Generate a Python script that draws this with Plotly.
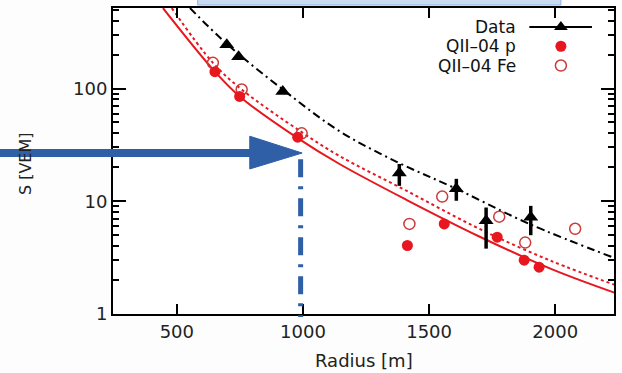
import plotly.graph_objects as go

# ---- data ----
data_r = [698, 745, 920, 1382, 1608, 1726, 1903]
data_s = [244, 191, 94, 17.8, 12.9, 6.7, 7.2]
data_err_up = [0, 0, 0, 3.6, 2.9, 2.1, 1.9]
data_err_dn = [0, 0, 0, 4.1, 2.8, 2.9, 2.2]

p_r = [651, 749, 979, 1414, 1560, 1770, 1877, 1936]
p_s = [141, 85, 37, 4.05, 6.3, 4.8, 3.0, 2.6]

fe_r = [643, 757, 995, 1422, 1552, 1778, 1881, 2079]
fe_s = [169, 98, 40, 6.3, 11.0, 7.3, 4.3, 5.7]

# fitted curves
fit_data_r = [552, 698, 920, 1145, 1382, 1608, 1897, 2241]
fit_data_s = [517, 249, 98, 41.8, 21.8, 12.9, 6.3, 3.1]

fit_p_r = [445, 651, 749, 979, 1145, 1410, 1699, 1988, 2241]
fit_p_s = [517, 141, 85, 36.3, 21.4, 10.3, 4.87, 2.49, 1.53]

fit_fe_r = [480, 643, 757, 995, 1145, 1410, 1699, 1988, 2241]
fit_fe_s = [517, 169, 98, 41, 25.2, 12.4, 5.7, 2.93, 1.80]

x_ticks = [500, 1000, 1500, 2000]
y_ticks = [1, 10, 100]
y_minor = [2, 3, 4, 5, 6, 7, 8, 9, 20, 30, 40, 50, 60, 70, 80, 90, 200, 300, 400, 500]

legend_labels = ["Data", "QII–04 p", "QII–04 Fe"]

RED = "#e8161e"
RED_OPEN = "#cc3a3a"
BLUE = "#2f5fa6"
FONT = "DejaVu Sans"

fig = go.Figure()

fig.add_trace(go.Scatter(x=fit_p_r, y=fit_p_s, mode="lines", line=dict(color=RED, width=2, shape="spline"),
                         showlegend=False))
fig.add_trace(go.Scatter(x=fit_fe_r, y=fit_fe_s, mode="lines", line=dict(color=RED, width=2, dash="dot", shape="spline"),
                         showlegend=False))
fig.add_trace(go.Scatter(x=fit_data_r, y=fit_data_s, mode="lines",
                         line=dict(color="black", width=2, dash="8px,4px,2px,4px", shape="spline"),
                         showlegend=False))

fig.add_trace(go.Scatter(x=fe_r, y=fe_s, mode="markers",
                         marker=dict(symbol="circle-open", size=11, color=RED_OPEN, line=dict(width=1.5)),
                         showlegend=False))
fig.add_trace(go.Scatter(x=p_r, y=p_s, mode="markers",
                         marker=dict(symbol="circle", size=11, color=RED),
                         showlegend=False))
fig.add_trace(go.Scatter(x=data_r, y=data_s, mode="markers",
                         marker=dict(symbol="triangle-up", size=13, color="black"),
                         error_y=dict(type="data", symmetric=False, array=data_err_up, arrayminus=data_err_dn,
                                      thickness=3.5, width=0, color="black"),
                         showlegend=False))

# ---- custom legend (symbols on the right of the text) on an overlay axis ----
leg_y = [0.938, 0.875, 0.812]
leg_sym_x = 0.894
fig.add_trace(go.Scatter(x=[0.831, 0.956], y=[leg_y[0], leg_y[0]], mode="lines",
                         line=dict(color="black", width=2), xaxis="x2", yaxis="y2", showlegend=False))
fig.add_trace(go.Scatter(x=[leg_sym_x], y=[leg_y[0]], mode="markers",
                         marker=dict(symbol="triangle-up", size=12, color="black"),
                         xaxis="x2", yaxis="y2", showlegend=False))
fig.add_trace(go.Scatter(x=[leg_sym_x], y=[leg_y[1]], mode="markers",
                         marker=dict(symbol="circle", size=11, color=RED),
                         xaxis="x2", yaxis="y2", showlegend=False))
fig.add_trace(go.Scatter(x=[leg_sym_x], y=[leg_y[2]], mode="markers",
                         marker=dict(symbol="circle-open", size=11, color=RED_OPEN, line=dict(width=1.5)),
                         xaxis="x2", yaxis="y2", showlegend=False))

annotations = []
for lab, yy in zip(legend_labels, leg_y):
    annotations.append(dict(x=0.807, y=yy, xref="paper", yref="paper", text=lab, showarrow=False,
                            xanchor="right", yanchor="middle", borderpad=0,
                            font=dict(family=FONT, size=17, color="#111")))

annotations.append(dict(x=0.5, y=0, xref="paper", yref="paper", yshift=-46, text="Radius [m]",
                        showarrow=False, xanchor="center", yanchor="middle",
                        font=dict(family=FONT, size=18, color="#222")))
annotations.append(dict(x=0, y=0.49, xref="paper", yref="paper", xshift=-88, text="S [VEM]", textangle=-90,
                        showarrow=False, xanchor="center", yanchor="middle",
                        font=dict(family=FONT, size=16, color="#222")))

# ---- blue overlay marks ----
shapes = [
    dict(type="rect", xref="paper", yref="paper", x0=0.169, x1=0.894, y0=1.0097, y1=1.03,
         fillcolor="#c9dbf2", line=dict(color="#8fb3df", width=1)),
    dict(type="line", xref="paper", yref="paper", x0=-0.23, x1=0.285, y0=0.526, y1=0.526,
         line=dict(color=BLUE, width=8)),
    dict(type="path", xref="paper", yref="paper",
         path="M 0.273 0.581 L 0.273 0.474 L 0.3775 0.526 Z", fillcolor=BLUE, line=dict(color=BLUE, width=1)),
    dict(type="line", xref="paper", yref="paper", x0=0.3745, x1=0.3745, y0=0.506, y1=-0.01,
         line=dict(color=BLUE, width=5, dash="18px,9px,3px,9px")),
]

fig.update_layout(
    width=622, height=373,
    margin=dict(l=113, r=7, t=6, b=59),
    paper_bgcolor="#fdfdfd", plot_bgcolor="white",
    showlegend=False,
    annotations=annotations,
    shapes=shapes,
    xaxis=dict(range=[247, 2233], tickvals=x_ticks, ticks="inside", ticklen=10, tickwidth=2, tickcolor="black",
               showline=True, linecolor="black", linewidth=2, mirror="ticks", showgrid=False, zeroline=False,
               tickfont=dict(family=FONT, size=18, color="#222")),
    yaxis=dict(type="log", range=[0, 2.714], tickvals=y_ticks, ticktext=[str(v) for v in y_ticks],
               ticks="inside", ticklen=13, tickwidth=2, tickcolor="black",
               showline=True, linecolor="black", linewidth=2, mirror="ticks", showgrid=False, zeroline=False,
               tickfont=dict(family=FONT, size=18, color="#222"),
               minor=dict(tickvals=y_minor, ticks="inside", ticklen=6, tickwidth=1.5, tickcolor="black",
                          showgrid=False)),
    xaxis2=dict(overlaying="x", range=[0, 1], visible=False),
    yaxis2=dict(overlaying="y", range=[0, 1], visible=False),
)

fig.write_html("out.html")
